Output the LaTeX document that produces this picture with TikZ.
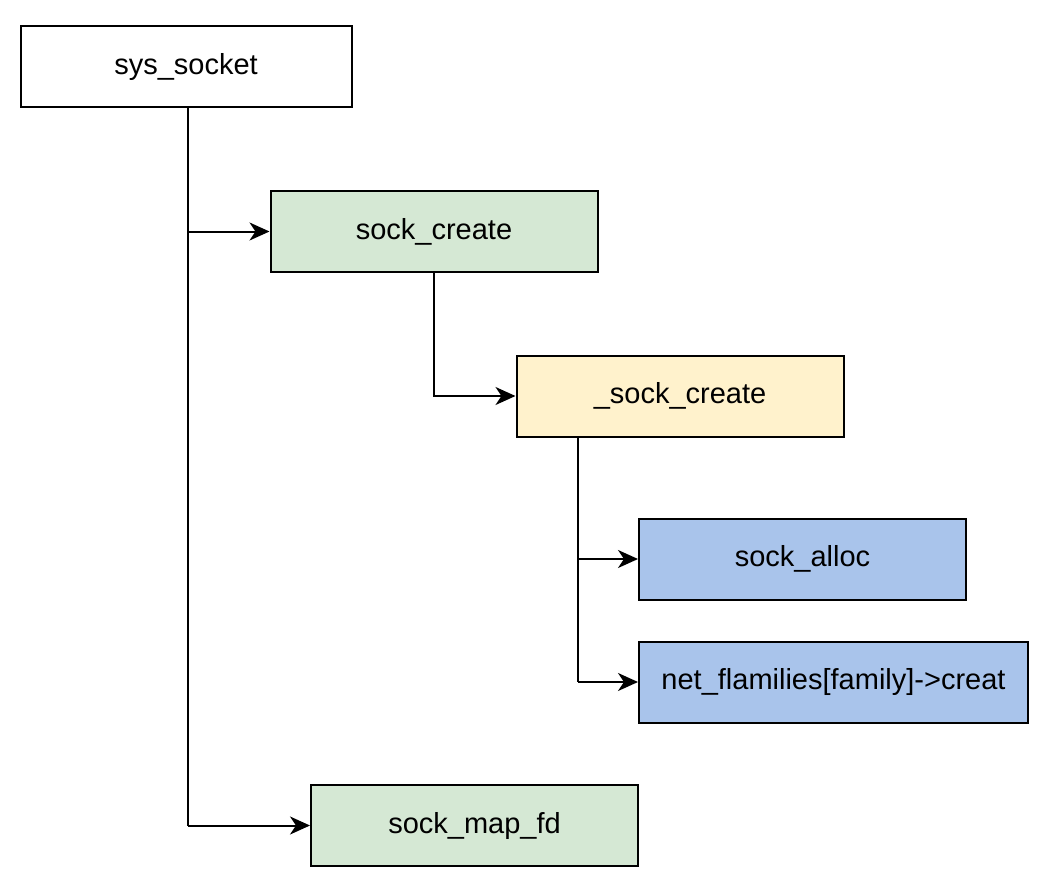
\documentclass[tikz,border=0pt]{standalone}
\usepackage{fontspec}
\setmainfont{Liberation Sans}
\usetikzlibrary{arrows.meta}
\definecolor{cgreen}{HTML}{D5E8D4}
\definecolor{cyellow}{HTML}{FFF2CC}
\definecolor{cblue}{HTML}{A9C4EB}
\begin{document}
\begin{tikzpicture}[x=1pt,y=-1pt,
  box/.style={draw=black, line width=2pt, minimum height=81pt, inner sep=0pt, font=\fontsize{29}{34}\selectfont, anchor=center},
  conn/.style={line width=2pt, -{Stealth[length=20pt,width=18pt,inset=6pt]}},
  plain/.style={line width=2pt}]
\useasboundingbox (0,0) rectangle (1046,880);
\node[box, fill=white, minimum width=331pt] (sys) at (186,67) {sys\_socket};
\node[box, fill=cgreen, minimum width=327pt] (sc) at (434,231.5) {sock\_create};
\node[box, fill=cyellow, minimum width=327pt] (usc) at (680,396) {\_sock\_create};
\node[box, fill=cblue, minimum width=327pt] (sa) at (802.5,559) {sock\_alloc};
\node[box, fill=cblue, minimum width=389pt] (nf) at (833.5,682) {net\_flamilies[family]{-}>creat};
\node[box, fill=cgreen, minimum width=327pt] (smf) at (474.5,825.5) {sock\_map\_fd};
\coordinate (j1) at (188,231.5);
\coordinate (j2) at (188,825.5);
\coordinate (j3) at (434,396);
\coordinate (j4) at (578,559);
\coordinate (j5) at (578,682);
\draw[plain] (sys.south -| j1) -- (j2);
\draw[conn] (j1) -- (sc.west);
\draw[conn] (j2) -- (smf.west);
\draw[conn] (sc.south) -- (j3) -- (usc.west);
\draw[plain] (usc.south -| j5) -- (j5);
\draw[conn] (j4) -- (sa.west);
\draw[conn] (j5) -- (nf.west);
\end{tikzpicture}
\end{document}
